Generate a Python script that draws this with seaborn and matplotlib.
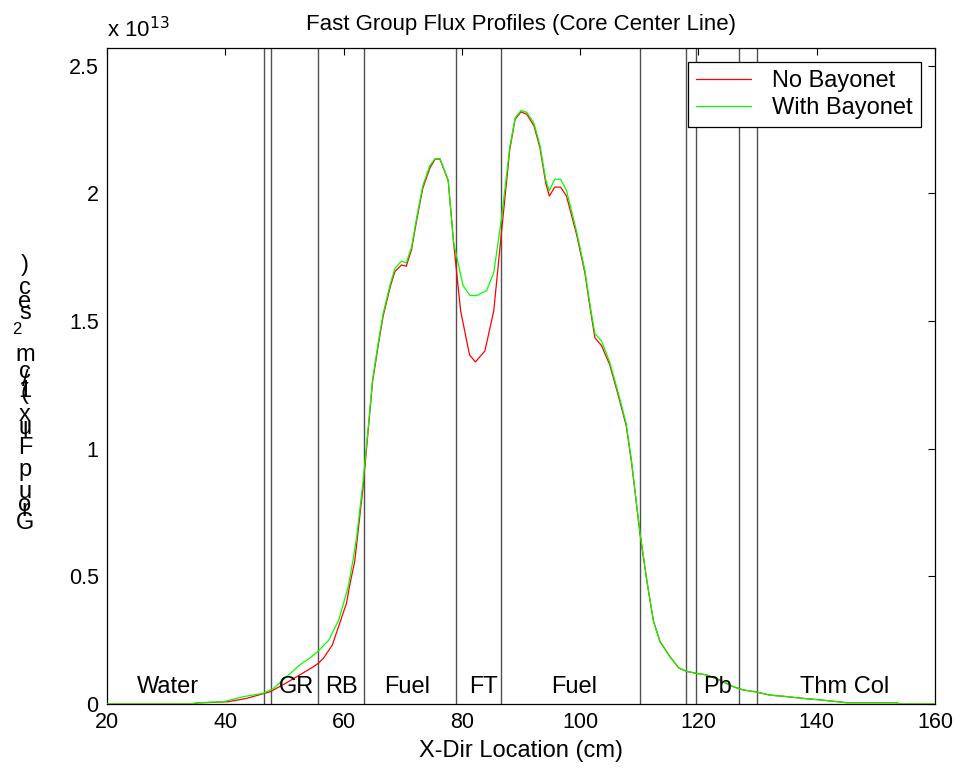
import numpy as np
import pandas as pd
import seaborn as sns
import matplotlib.pyplot as plt
from matplotlib.ticker import FuncFormatter

# --- data (flux in units of 1e13) ---
x_with = [20, 34, 35.2, 39.7, 43.1, 46.4, 48.1, 50.4, 52.6, 54.3, 55.6, 57.5, 59.2, 60.8,
          61.6, 62.2, 63.3, 64.2, 64.9, 65.9, 66.7, 67.9, 68.7, 69.8, 70.6, 71.5, 72.4, 73.4,
          74.6, 75.5, 76.3, 77.7, 78.6, 80.2, 81.4, 82.5, 84.2, 85.4, 86.7, 88.1, 89.0, 90.0,
          91.0, 92.2, 93.2, 94.2, 94.8, 95.7, 96.7, 97.7, 99.4, 100.8, 101.7, 102.5, 103.6,
          105.0, 106.5, 107.8, 108.7, 110.1, 111.3, 112.4, 113.5, 115.2, 116.7, 118.0, 119.7,
          121.4, 123.6, 125.9, 127.6, 129.6, 132.1, 134.9, 137.7, 140.6, 144.0, 145.1, 153.5,
          154.1, 160]
y_with = [0, 0, 0.005, 0.009, 0.029, 0.042, 0.06, 0.107, 0.153, 0.18, 0.205, 0.25, 0.33, 0.46,
          0.564, 0.65, 0.87, 1.09, 1.27, 1.42, 1.53, 1.645, 1.707, 1.735, 1.728, 1.79, 1.91, 2.03,
          2.11, 2.137, 2.137, 2.053, 1.81, 1.64, 1.60, 1.60, 1.62, 1.69, 1.90, 2.18, 2.295, 2.325,
          2.318, 2.275, 2.19, 2.053, 2.01, 2.056, 2.056, 2.012, 1.852, 1.70, 1.56, 1.451, 1.423,
          1.34, 1.215, 1.098, 0.952, 0.676, 0.482, 0.325, 0.245, 0.185, 0.141, 0.128, 0.12,
          0.114, 0.094, 0.068, 0.055, 0.048, 0.035, 0.029, 0.022, 0.016, 0.008, 0.005, 0.005,
          0, 0]

x_no = [20, 34.5, 35.2, 40.5, 43.6, 47.6, 50.2, 52.6, 54.9, 55.7, 56.6, 58.1, 60.5, 61.0, 61.9,
        63.3, 64.2, 64.9, 65.9, 66.7, 67.9, 68.7, 69.8, 70.6, 71.5, 72.4, 73.4, 74.6, 75.5, 76.3,
        77.7, 78.6, 79.8, 81.3, 82.3, 83.9, 85.4, 86.5, 88.1, 89.0, 90.0, 91.0, 92.2, 93.2, 94.2,
        94.8, 95.7, 96.7, 97.7, 99.4, 100.8, 101.7, 102.5, 103.6, 105.0, 106.5, 107.8, 108.7,
        110.1, 111.3, 112.4, 113.5, 115.2, 116.7, 118.0, 119.7, 121.4, 123.6, 125.9, 127.6,
        129.6, 132.1, 134.9, 137.7, 140.6, 144.0, 145.1, 153.5, 154.1, 160]
y_no = [0, 0, 0.004, 0.009, 0.022, 0.048, 0.081, 0.114, 0.146, 0.159, 0.179, 0.231, 0.395, 0.46,
        0.56, 0.85, 1.08, 1.26, 1.41, 1.52, 1.635, 1.695, 1.72, 1.715, 1.78, 1.90, 2.02, 2.10,
        2.135, 2.135, 2.05, 1.81, 1.54, 1.368, 1.34, 1.383, 1.54, 1.80, 2.17, 2.29, 2.32, 2.31,
        2.265, 2.18, 2.04, 1.99, 2.025, 2.025, 1.99, 1.84, 1.69, 1.55, 1.435, 1.405, 1.33, 1.205,
        1.09, 0.945, 0.672, 0.48, 0.325, 0.245, 0.185, 0.141, 0.128, 0.12, 0.114, 0.094, 0.068,
        0.055, 0.048, 0.035, 0.029, 0.022, 0.016, 0.008, 0.005, 0.005, 0, 0]

boundaries = [46.6, 47.8, 55.7, 63.4, 79.0, 86.7, 110.1, 117.85, 119.55, 126.9, 129.85]
region_names = ['Water', 'GR', 'RB', 'Fuel', 'FT', 'Fuel', 'Pb', 'Thm Col']
region_x = [30.3, 52.1, 59.6, 70.7, 83.6, 99.0, 123.3, 144.8]

df = pd.concat([
    pd.DataFrame({'x': x_no, 'flux': y_no, 'case': 'No Bayonet'}),
    pd.DataFrame({'x': x_with, 'flux': y_with, 'case': 'With Bayonet'}),
], ignore_index=True)

sns.set_style('white')
plt.rcParams['font.family'] = ['Liberation Sans', 'DejaVu Sans']
plt.rcParams['font.size'] = 16
plt.rcParams['text.color'] = 'black'
plt.rcParams['axes.labelcolor'] = 'black'
plt.rcParams['xtick.color'] = 'black'
plt.rcParams['ytick.color'] = 'black'

fig = plt.figure(figsize=(9.61, 7.78), dpi=100)
ax = fig.add_axes([0.1113, 0.0951, 0.8616, 0.8432])

# region boundaries
for b in boundaries:
    ax.axvline(b, color='#505050', lw=1.0, zorder=1)

sns.lineplot(data=df, x='x', y='flux', hue='case', sort=False, estimator=None,
             palette={'No Bayonet': '#ff0000', 'With Bayonet': '#00ff00'},
             hue_order=['No Bayonet', 'With Bayonet'], lw=0.9, ax=ax, zorder=3)

for name, xc in zip(region_names, region_x):
    ax.text(xc, 0.068, name, ha='center', va='center', fontsize=17, zorder=4)

ax.set_xlim(20, 160)
ax.set_ylim(0, 2.57)
ax.set_xticks(np.arange(20, 161, 20))
ax.set_yticks(np.arange(0, 2.51, 0.5))
ax.yaxis.set_major_formatter(FuncFormatter(lambda v, p: '%g' % v))
ax.tick_params(direction='in', length=5, width=0.8, top=True, right=True,
               labelsize=15.5, pad=6, colors='black')
for s in ax.spines.values():
    s.set_color('black')
    s.set_linewidth(0.9)

ax.set_xlabel('X-Dir Location (cm)', fontsize=17, labelpad=5)
ax.set_ylabel('')
ax.set_title('Fast Group Flux Profiles (Core Center Line)', fontsize=16, pad=13)

leg = ax.legend(loc='upper right', bbox_to_anchor=(1, 1), borderaxespad=0.6,
                fancybox=False, framealpha=1, edgecolor='black', fontsize=17,
                handlelength=2.3, handletextpad=0.9, borderpad=0.35, labelspacing=0.2)
leg.get_frame().set_linewidth(0.9)

# exponent label
fig.text(107 / 961, 1 - 37 / 778, r'x 10$^{13}$', fontsize=16, ha='left', va='baseline')

# garbled stacked y label, as in the original
ylab_chars = ['G', 'r', 'o', 'u', 'p', 'F', 'l', 'u', 'x', '(', '1', '/', 'c', 'm', '2', 's', 'e', 'c', ')']
ylab_ypx = [523, 510, 505, 492, 470, 448, 432, 428, 415, 393, 391, 380, 372, 355, 330, 313, 302, 288, 265]
for ch, ypx in zip(ylab_chars, ylab_ypx):
    small = ch == '2'
    fig.text((17 if small else 25) / 961, 1 - ypx / 778, ch,
             fontsize=12 if small else 17, ha='center', va='center')

plt.savefig('out.png', dpi=100)
